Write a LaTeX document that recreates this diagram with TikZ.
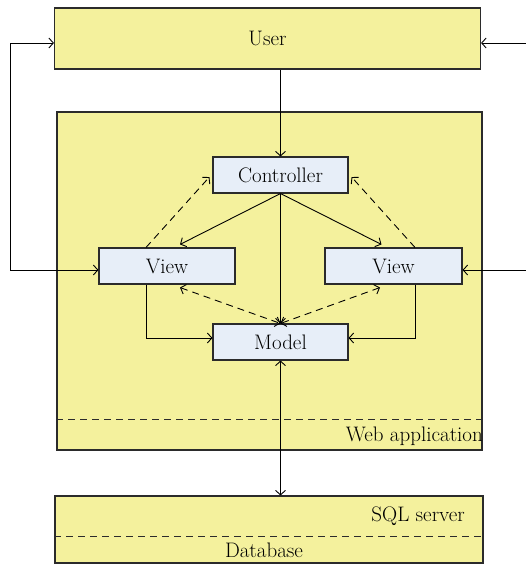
\documentclass[tikz,border=0pt]{standalone}
\usepackage{fontspec}
\setmainfont{Latin Modern Roman}
\usetikzlibrary{arrows.meta,calc}
\definecolor{appyellow}{HTML}{F4F19D}
\definecolor{compblue}{HTML}{E7EEF8}
\definecolor{edge}{HTML}{2B2B2B}
\begin{document}
\begin{tikzpicture}[x=1pt,y=-1pt,
  font=\fontsize{21}{24}\selectfont,
  every node/.style={inner sep=0pt},
  region/.style={draw=edge,line width=1.1pt,fill=appyellow},
  comp/.style={draw=edge,line width=1.1pt,fill=compblue},
  conn/.style={draw=black,line width=0.9pt},
  tip/.style={conn,-{Straight Barb[length=4.5pt,width=10pt]}},
  tips/.style={conn,{Straight Barb[length=4.5pt,width=10pt]}-{Straight Barb[length=4.5pt,width=10pt]}},
  dsh/.style={dash pattern=on 7pt off 5pt}]
\useasboundingbox (0,0) rectangle (526,567);
% regions
\node[region,minimum width=426pt,minimum height=61pt] (user) at (267.5,38.5) {User};
\node[region,minimum width=425pt,minimum height=338pt] (web) at (269.5,281) {};
\node[region,minimum width=428pt,minimum height=67pt] (sql) at (269,529.5) {};
\draw[edge,line width=1pt,dsh] (web.west |- 0,419) -- (web.east |- 0,419);
\draw[edge,line width=1pt,dsh] (sql.west |- 0,536) -- (sql.east |- 0,536);
\node[anchor=east] (weblbl) at (483,436) {Web application};
\node[anchor=east] (sqllbl) at (465,516) {SQL server};
\node (dblbl) at (264,550) {Database};
% components
\node[comp,minimum width=135pt,minimum height=36pt] (ctrl) at (280.5,175) {Controller};
\node[comp,minimum width=136pt,minimum height=36pt] (viewL) at (167,266) {View};
\node[comp,minimum width=137pt,minimum height=36pt] (viewR) at (393.5,266) {View};
\node[comp,minimum width=135pt,minimum height=36pt] (model) at (280.5,342) {Model};
% connectors
\draw[tip] (ctrl.north |- user.south) -- (ctrl.north);
\draw[tip] (ctrl.south) -- ([xshift=13pt,yshift=3pt]viewL.north);
\draw[tip] (ctrl.south) -- ([xshift=-12pt,yshift=3pt]viewR.north);
\draw[tip] (ctrl.south) -- (model.north);
\draw[tip,dsh] ([xshift=-21pt]viewL.north) -- ([xshift=-3pt,yshift=-2pt]ctrl.west);
\draw[tip,dsh] ([xshift=21.5pt]viewR.north) -- ([xshift=3pt,yshift=-2pt]ctrl.east);
\draw[tips,dsh] ([xshift=13pt,yshift=-3pt]viewL.south) -- (model.north);
\draw[tips,dsh] ([xshift=-13.5pt,yshift=-3pt]viewR.south) -- (model.north);
\draw[tip] ([xshift=-21pt]viewL.south) |- ([yshift=4pt]model.west);
\draw[tip] ([xshift=21.5pt]viewR.south) |- ([yshift=4pt]model.east);
\draw[tips] (model.south) -- (model.south |- sql.north);
% outer loops
\coordinate (lt) at (10,43);
\coordinate (lb) at (10,270);
\coordinate (rt) at (530,43);
\coordinate (rb) at (530,270);
\draw[tips] (user.west |- lt) -- (lt) -- (lb) -- (viewL.west |- lb);
\draw[tips] (user.east |- rt) -- (rt) -- (rb) -- (viewR.east |- rb);
\end{tikzpicture}
\end{document}
